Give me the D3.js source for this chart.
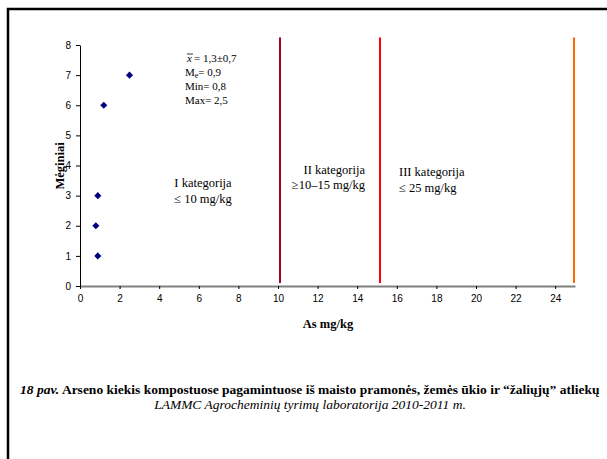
<!DOCTYPE html>
<html>
<head>
<meta charset="utf-8">
<script src="https://cdn.jsdelivr.net/npm/d3@7/dist/d3.min.js"></script>
<style>
  body { margin: 0; background: #fff; }
</style>
</head>
<body>
<div id="chart"></div>
<script>
// data
var asValues = [0.9, 0.8, 0.9, 1.2, 2.5]
var samples = [1, 2, 3, 6, 7]
var limits = [10.1, 15.15, 24.95]
var limitColors = ["#a50021", "#ff0000", "#ff6600"]
var xTicks = [0, 2, 4, 6, 8, 10, 12, 14, 16, 18, 20, 22, 24]
var yTicks = [0, 1, 2, 3, 4, 5, 6, 7, 8]
var stats = ["= 1,3±0,7", "= 0,9", "Min= 0,8", "Max= 2,5"]

var W = 607, H = 459
var serif = "Liberation Serif"
var sans = "Liberation Sans"

var svg = d3.select("#chart")
  .append("svg")
  .attr("width", W)
  .attr("height", H)

// page frame
svg.append("path")
  .attr("d", "M8,459 L8,9 L607,9")
  .attr("fill", "none")
  .attr("stroke", "#000")
  .attr("stroke-width", 2.5)

var x = d3.scaleLinear().domain([0, 25]).range([80, 575])
var y = d3.scaleLinear().domain([0, 8]).range([286, 45])

// limit lines
svg.append("g")
  .selectAll("line")
  .data(limits).enter()
  .append("line")
  .attr("x1", function (d) { return x(d) })
  .attr("x2", function (d) { return x(d) })
  .attr("y1", y(8.25))
  .attr("y2", y(0.1))
  .attr("stroke", function (d, i) { return limitColors[i] })
  .attr("stroke-width", 2)

// axes
var xAxis = svg.append("g")
  .attr("transform", "translate(0," + y(0) + ")")
  .call(d3.axisBottom(x).tickValues(xTicks).tickSize(3).tickPadding(6).tickSizeOuter(0))
xAxis.attr("font-family", sans).attr("font-size", 10)
xAxis.select(".domain").attr("stroke", "#808080").attr("stroke-width", 2)
xAxis.selectAll(".tick line").attr("stroke", "#000")
xAxis.selectAll("text").attr("fill", "#000")

var yAxis = svg.append("g")
  .attr("transform", "translate(" + x(0) + ",0)")
  .call(d3.axisLeft(y).tickValues(yTicks).tickSize(4).tickPadding(5).tickSizeOuter(0))
yAxis.attr("font-family", sans).attr("font-size", 10)
yAxis.select(".domain").attr("stroke", "#000").attr("stroke-width", 1)
yAxis.selectAll("text").attr("fill", "#000")

// points (diamonds)
svg.append("g")
  .selectAll("path")
  .data(asValues).enter()
  .append("path")
  .attr("d", d3.symbol().type(d3.symbolDiamond2).size(32))
  .attr("transform", function (d, i) { return "translate(" + x(d) + "," + y(samples[i]) + ")" })
  .attr("fill", "#000080")

// axis titles
svg.append("text")
  .attr("x", 328).attr("y", 328)
  .attr("text-anchor", "middle")
  .attr("font-family", serif)
  .attr("font-size", 12.5)
  .attr("font-weight", "bold")
  .text("As mg/kg")

svg.append("text")
  .attr("transform", "translate(64,166) rotate(-90)")
  .attr("text-anchor", "middle")
  .attr("font-family", serif)
  .attr("font-size", 12.5)
  .attr("font-weight", "bold")
  .text("Mėginiai")

// stats box
var st = svg.append("g")
  .attr("font-family", serif)
  .attr("font-size", 11)
st.append("text").attr("x", 187).attr("y", 62)
  .attr("font-style", "italic").text("x")
st.append("line").attr("x1", 187).attr("x2", 193).attr("y1", 54).attr("y2", 54)
  .attr("stroke", "#000").attr("stroke-width", 0.8)
st.append("text").attr("x", 194).attr("y", 62).text(stats[0])
var me = st.append("text").attr("x", 185).attr("y", 76)
me.append("tspan").text("M")
me.append("tspan").attr("dy", 2).attr("font-size", 8).text("e")
me.append("tspan").attr("dy", -2).text(stats[1])
st.append("text").attr("x", 185).attr("y", 90).text(stats[2])
st.append("text").attr("x", 185).attr("y", 104).text(stats[3])

// category labels
var cats = svg.append("g")
  .attr("font-family", serif)
  .attr("font-size", 12.5)
cats.append("text").attr("x", 203).attr("y", 187).attr("text-anchor", "middle").text("I kategorija")
cats.append("text").attr("x", 203).attr("y", 203).attr("text-anchor", "middle").text("≤ 10 mg/kg")
cats.append("text").attr("x", 365).attr("y", 174).attr("text-anchor", "end").text("II kategorija")
cats.append("text").attr("x", 365).attr("y", 189).attr("text-anchor", "end").text("≥10–15 mg/kg")
cats.append("text").attr("x", 399).attr("y", 176).text("III kategorija")
cats.append("text").attr("x", 399).attr("y", 192).text("≤ 25 mg/kg")

// caption
var cap = svg.append("text")
  .attr("x", 20).attr("y", 394)
  .attr("font-family", serif)
  .attr("font-size", 13.5)
  .attr("font-weight", "bold")
cap.append("tspan").attr("font-style", "italic").text("18 pav.")
cap.append("tspan").text(" Arseno kiekis kompostuose pagamintuose iš maisto pramonės, žemės ūkio ir “žaliųjų” atliekų")

svg.append("text")
  .attr("x", 310).attr("y", 409)
  .attr("text-anchor", "middle")
  .attr("font-family", serif)
  .attr("font-size", 13.5)
  .attr("font-style", "italic")
  .text("LAMMC Agrocheminių tyrimų laboratorija 2010-2011 m.")
</script>
</body>
</html>
